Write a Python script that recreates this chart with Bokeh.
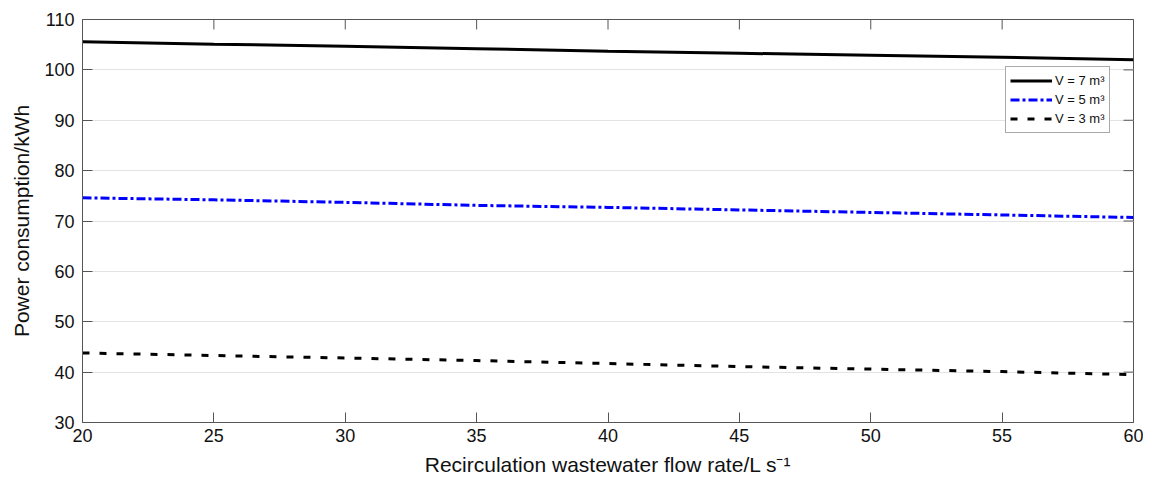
import math
from bokeh.plotting import figure
from bokeh.models import Legend, LegendItem, Range1d, FixedTicker
from bokeh.embed import file_html
from bokeh.resources import INLINE

flow = [20, 25, 30, 35, 40, 45, 50, 55, 60]
v7 = [105.6, 105.1, 104.7, 104.2, 103.7, 103.3, 102.9, 102.5, 102.0]
v5 = [74.6, 74.2, 73.7, 73.1, 72.7, 72.2, 71.7, 71.2, 70.7]
v3 = [43.8, 43.3, 42.8, 42.3, 41.7, 41.1, 40.6, 40.1, 39.5]
labels = ["V = 7 m³", "V = 5 m³", "V = 3 m³"]
xticks = [20, 25, 30, 35, 40, 45, 50, 55, 60]
yticks = [30, 40, 50, 60, 70, 80, 90, 100, 110]

FONT = "Liberation Sans"
AX = "#555555"

p = figure(width=1143, height=478, output_backend="svg", toolbar_location=None,
           x_range=Range1d(20, 60), y_range=Range1d(30, 110),
           min_border_left=82, min_border_top=19, min_border_right=10, min_border_bottom=54)
p.outline_line_color = AX
p.outline_line_width = 1
p.xgrid.grid_line_color = None
p.ygrid.grid_line_color = "#e3e3e3"
p.ygrid.ticker = FixedTicker(ticks=yticks)

p.xaxis.ticker = FixedTicker(ticks=xticks)
p.yaxis.ticker = FixedTicker(ticks=yticks)
for ax in (p.xaxis[0], p.yaxis[0]):
    ax.axis_line_color = AX
    ax.major_tick_line_color = AX
    ax.major_tick_in = 10
    ax.major_tick_out = 0
    ax.minor_tick_line_color = None
    ax.major_label_text_font = FONT
    ax.major_label_text_font_size = "18px"
    ax.major_label_text_color = "#111111"
    ax.axis_label_text_font = FONT
    ax.axis_label_text_font_size = "21px"
    ax.axis_label_text_font_style = "normal"
    ax.axis_label_text_color = "#111111"
p.xaxis.axis_label = "Recirculation wastewater flow rate/L s\u207b\u00b9"
p.yaxis.axis_label = "Power consumption/kWh"
p.xaxis.major_label_standoff = 6
p.yaxis.major_label_standoff = 8
p.xaxis.axis_label_standoff = 8
p.yaxis.axis_label_standoff = 8

# inward ticks on the top and right sides of the box
p.ray(x=xticks, y=[110] * len(xticks), length=10, length_units="screen",
      angle=-math.pi / 2, line_color=AX, line_width=1)
p.ray(x=[60] * len(yticks), y=yticks, length=10, length_units="screen",
      angle=math.pi, line_color=AX, line_width=1)

r7 = p.line(flow, v7, line_color="black", line_width=3)
r5 = p.line(flow, v5, line_color="#0000ff", line_width=3, line_dash="9 3 3 3")
r3 = p.line(flow, v3, line_color="black", line_width=3, line_dash="7 10")

legend = Legend(items=[LegendItem(label=labels[0], renderers=[r7]),
                       LegendItem(label=labels[1], renderers=[r5]),
                       LegendItem(label=labels[2], renderers=[r3])],
                location=(923, 289), orientation="vertical",
                label_text_font=FONT, label_text_font_size="13px",
                label_text_color="#111111",
                glyph_width=42, glyph_height=19, label_height=19,
                spacing=0, padding=4, margin=0, label_standoff=3,
                border_line_color=AX, border_line_width=1,
                background_fill_color="white", background_fill_alpha=1)
p.add_layout(legend, "center")

open("out.html", "w").write(file_html(p, INLINE))
